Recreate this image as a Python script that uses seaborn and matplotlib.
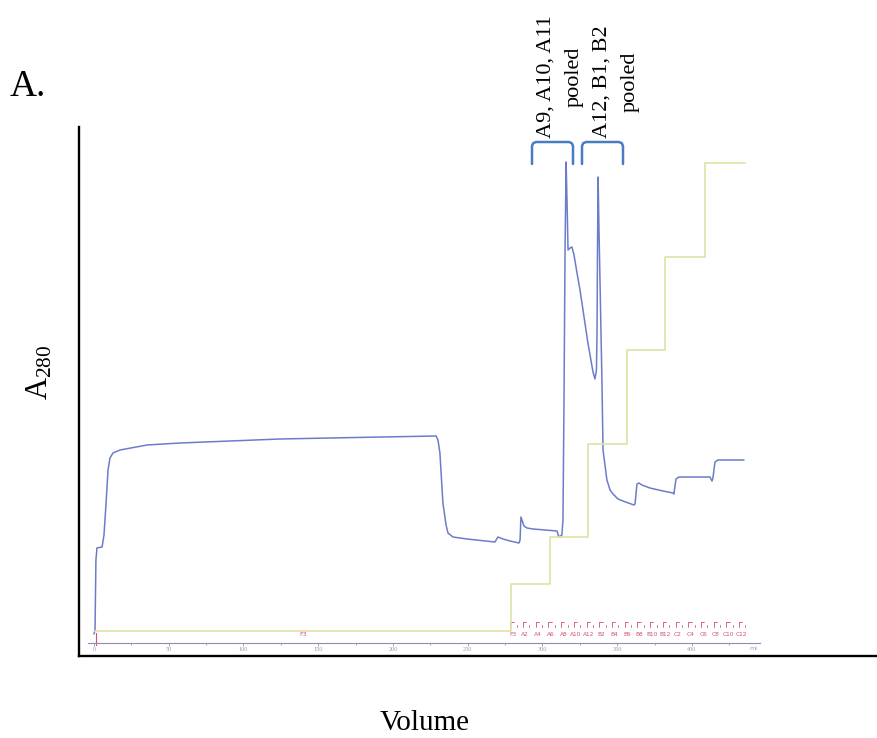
import numpy as np
import pandas as pd
import matplotlib
matplotlib.use("Agg")
import matplotlib.pyplot as plt
from matplotlib.lines import Line2D
import seaborn as sns

# ---------------- data ----------------
volume_ml = [0.0, 0.7, 1.3, 2.0, 5.4, 6.7, 8.0, 9.4, 10.7, 12.7, 17.4, 35.5, 57.5, 91.0,
             124.4, 171.2, 228.8, 230.1, 231.4, 233.4, 235.5, 236.8, 240.1, 249.5, 268.2,
             270.2, 273.6, 278.3, 284.3, 285.0, 285.6, 287.6, 289.6, 293.6, 309.7, 311.0,
             313.0, 313.7, 314.4, 315.1, 315.8, 316.4, 317.1, 318.4, 319.7, 321.1, 323.1,
             325.1, 327.1, 330.4, 333.8, 335.1, 336.1, 336.5, 336.8, 337.2, 337.8, 338.5,
             339.8, 340.5, 341.8, 343.1, 345.2, 347.2, 350.5, 353.8, 361.2, 361.9, 363.2,
             364.5, 366.5, 371.9, 380.6, 387.3, 387.9, 389.3, 391.3, 402.0, 412.0, 413.4,
             414.0, 415.4, 417.4, 425.4, 434.8]
a280_mau = [45, 65, 415, 475, 480, 540, 690, 865, 925, 950, 965, 990, 1000, 1010,
            1020, 1027, 1035, 1015, 950, 700, 590, 550, 530, 520, 505,
            530, 520, 510, 500, 515, 630, 585, 575, 570, 560, 530,
            540, 615, 1215, 1965, 2405, 2215, 1965, 1975, 1980, 1940, 1850,
            1765, 1665, 1500, 1355, 1320, 1365, 1565, 1965, 2330, 2065, 1800,
            1300, 965, 890, 815, 765, 745, 720, 710, 690, 695, 795,
            800, 790, 775, 760, 750, 745, 820, 830, 830, 830, 810,
            825, 905, 915, 915, 915]

grad_vol = [0.0, 279.0, 305.0, 330.4, 356.5, 382.0, 408.7, 435.5]
grad_pct = [0, 5, 10, 20, 30, 40, 50, 50]

tick_vals = [0, 50, 100, 150, 200, 250, 300, 350, 400]
tick_labels = ["0", "50", "100", "150", "200", "250", "300", "350", "400"]

frac_vol = [280.0, 288.5, 297.0, 305.5, 314.0, 322.5, 331.0, 339.5, 348.0, 356.5,
            365.0, 373.5, 382.0, 390.5, 399.0, 407.5, 416.0, 424.5, 433.0]
frac_labels = ["F3", "A2", "A4", "A6", "A8", "A10", "A12", "B2", "B4", "B6",
               "B8", "B10", "B12", "C2", "C4", "C6", "C8", "C10", "C12"]

pool_labels = ["A9, A10, A11\npooled", "A12, B1, B2\npooled"]

# ---------------- style ----------------
sns.set_style("white")
plt.rcParams['font.family'] = ['Liberation Serif', 'DejaVu Serif']
plt.rcParams['text.color'] = 'black'
plt.rcParams['mathtext.fontset'] = 'custom'
plt.rcParams['mathtext.rm'] = 'Liberation Serif'
plt.rcParams['mathtext.it'] = 'Liberation Serif:italic'

W, H = 877, 738
fig = plt.figure(figsize=(W / 100, H / 100), dpi=100)

def fx(px):
    return px / W

def fy(py):
    return 1 - py / H

# outer frame axes
ax = fig.add_axes([fx(79), fy(656), fx(877) - fx(79), fy(127) - fy(656)])
ax.set_xticks([])
ax.set_yticks([])
for s in ["top", "right"]:
    ax.spines[s].set_visible(False)
for s in ["left", "bottom"]:
    ax.spines[s].set_color("black")
    ax.spines[s].set_linewidth(1.7)
ax.patch.set_alpha(0)

# inner chromatogram axes
cx = fig.add_axes([fx(88), fy(643), fx(760) - fx(88), fy(127) - fy(643)])
cx.patch.set_alpha(0)
df = pd.DataFrame({"Volume (ml)": volume_ml, "A280 (mAU)": a280_mau})
sns.lineplot(data=df, x="Volume (ml)", y="A280 (mAU)", ax=cx, sort=False,
             estimator=None, color="#6b7dc9", linewidth=1.1)
cx.set_xlim(-4.0, 445.5)
cx.set_ylim(0, 2580)
cx.set_xlabel("")
cx.set_ylabel("")
cx.set_yticks([])
cx.set_xticks(tick_vals)
cx.set_xticklabels(tick_labels)
cx.set_xticks([25, 75, 125, 175, 225, 275, 325, 375, 425], minor=True)
cx.tick_params(axis="x", which="both", direction="out", length=2, width=0.6,
               colors="#9a9aa8", labelsize=4.5, pad=1, bottom=True)
cx.tick_params(axis="x", which="minor", length=1.5)
for s in ["top", "right", "left"]:
    cx.spines[s].set_visible(False)
cx.spines["bottom"].set_color("#8c8fb0")
cx.spines["bottom"].set_linewidth(0.8)
cx.text(441, -28, "ml", fontsize=4.5, color="#9a9aa8", ha="center", va="center",
        family="DejaVu Sans", clip_on=False)

# fraction markers
for v, lab in zip(frac_vol, frac_labels):
    cx.text(v, 40, lab, fontsize=4.2, color="#d0506e", ha="center", va="center",
            family="DejaVu Sans")
    cx.plot([v - 1.5, v - 1.5], [78, 104], color="#d0506e", lw=0.6)
    cx.plot([v - 1.5, v + 0.7], [104, 104], color="#d0506e", lw=0.6)
    cx.plot([v + 2.8, v + 2.8], [78, 92], color="#d0506e", lw=0.6)
cx.text(140, 45, "F3", fontsize=4.5, color="#d0506e", ha="center", va="center",
        family="DejaVu Sans")
cx.plot([1.3, 1.3], [50, -12], color="#d0506e", lw=0.8, clip_on=False)

# gradient on twin axis
gx = cx.twinx()
gdf = pd.DataFrame({"Volume (ml)": grad_vol, "%B": grad_pct})
sns.lineplot(data=gdf, x="Volume (ml)", y="%B", ax=gx, sort=False, estimator=None,
             color="#dfe2a6", linewidth=1.2, drawstyle="steps-post")
gx.set_ylim(-1.28, 53.85)
gx.set_xlim(-4.0, 445.5)
gx.set_ylabel("")
gx.set_yticks([])
for s in gx.spines.values():
    s.set_visible(False)

# brackets
def bracket(x0, x1, ytop, ybot):
    r = 4
    xs = [x0, x0, x0 + r * 0.3, x0 + r, x1 - r, x1 - r * 0.3, x1, x1]
    ys = [ybot, ytop + r, ytop + r * 0.3, ytop, ytop, ytop + r * 0.3, ytop + r, ybot]
    fig.add_artist(Line2D([fx(x) for x in xs], [fy(y) for y in ys],
                          transform=fig.transFigure, color="#4a7cc2", lw=1.8,
                          solid_joinstyle="round"))

bracket(532, 573, 142, 164)
bracket(582, 623, 142, 164)

fig.text(fx(560), fy(138), pool_labels[0], rotation=90, ha="center", va="bottom",
         multialignment="center", fontsize=16, linespacing=1.6, color="black")
fig.text(fx(616), fy(138), pool_labels[1], rotation=90, ha="center", va="bottom",
         multialignment="center", fontsize=16, linespacing=1.6, color="black")

fig.text(fx(10), fy(96), "A.", fontsize=27, ha="left", va="baseline", color="black")
fig.text(fx(40), fy(372), r"A$_{\mathrm{280}}$", rotation=90, fontsize=22,
         ha="center", va="center", color="black")
fig.text(fx(425), fy(730), "Volume", fontsize=21, ha="center", va="baseline",
         color="black")

fig.savefig("out.png", dpi=100, facecolor="white")
